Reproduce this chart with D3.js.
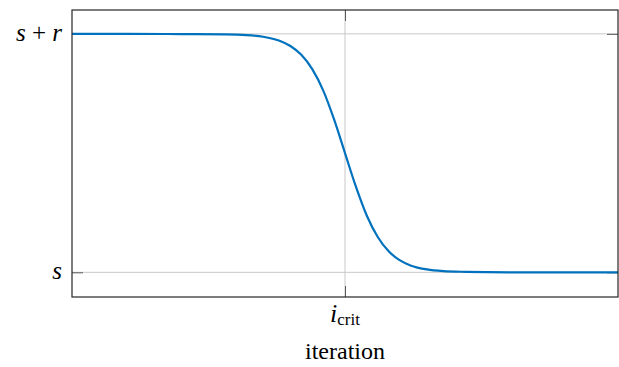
<!DOCTYPE html>
<html>
<head>
<meta charset="utf-8">
<script src="https://cdn.jsdelivr.net/npm/d3@7"></script>
<style>
  body { margin: 0; background: #fff; }
  svg { display: block; }
</style>
</head>
<body>
<svg id="chart" width="619" height="367"></svg>
<script>
// данные (ось X: итерации 0..100, i_crit = 50)
const iterations = [0, 10, 20, 28, 32, 35, 38, 40, 42, 44, 46, 48, 50, 52, 54, 56, 58, 60, 62, 65, 68, 72, 80, 90, 100];
const values     = [1.000, 1.000, 0.999, 0.998, 0.995, 0.988, 0.971, 0.949, 0.912, 0.852, 0.763, 0.641, 0.500,
                    0.359, 0.237, 0.148, 0.088, 0.051, 0.029, 0.012, 0.005, 0.002, 0.000, 0.000, 0.000];
const yTickValues = [0, 1];
const yLabels = ["s", "s + r"];
const xTickValues = [50];

const fontFamily = "'Liberation Serif'";

const svg = d3.select("#chart");
const margin = {top: 10, right: 1, bottom: 70, left: 72};
const width = 619 - margin.left - margin.right;
const height = 367 - margin.top - margin.bottom;

const chart = svg.append("g")
    .attr("transform", `translate(${margin.left},${margin.top})`);

const x = d3.scaleLinear().domain([0, 100]).range([0, width]);
const y = d3.scaleLinear().domain([-0.1035, 1.1]).range([height, 0]);

// сетка
chart.selectAll(".gy").data(yTickValues).enter().append("line")
    .attr("x1", 0).attr("x2", width)
    .attr("y1", d => y(d)).attr("y2", d => y(d))
    .attr("stroke", "#c8c8c8").attr("stroke-width", 1);
chart.selectAll(".gx").data(xTickValues).enter().append("line")
    .attr("x1", d => x(d)).attr("x2", d => x(d))
    .attr("y1", 0).attr("y2", height)
    .attr("stroke", "#c8c8c8").attr("stroke-width", 1);

// оси с внутренними засечками
const tickColor = "#5a5a5a";
const yAxisLeft = chart.append("g")
    .call(d3.axisLeft(y).tickValues(yTickValues).tickSizeInner(-11).tickSizeOuter(0).tickFormat(""));
const yAxisRight = chart.append("g").attr("transform", `translate(${width},0)`)
    .call(d3.axisRight(y).tickValues(yTickValues).tickSizeInner(-11).tickSizeOuter(0).tickFormat(""));
const xAxisBottom = chart.append("g").attr("transform", `translate(0,${height})`)
    .call(d3.axisBottom(x).tickValues(xTickValues).tickSizeInner(-11).tickSizeOuter(0).tickFormat(""));
const xAxisTop = chart.append("g")
    .call(d3.axisTop(x).tickValues(xTickValues).tickSizeInner(-11).tickSizeOuter(0).tickFormat(""));
[yAxisLeft, yAxisRight, xAxisBottom, xAxisTop].forEach(a => {
    a.select(".domain").remove();
    a.selectAll(".tick line").attr("stroke", tickColor).attr("stroke-width", 1);
});

// кривая
const line = d3.line()
    .x((d, i) => x(iterations[i]))
    .y(d => y(d))
    .curve(d3.curveMonotoneX);
chart.append("path")
    .datum(values)
    .attr("fill", "none")
    .attr("stroke", "#0072BD")
    .attr("stroke-width", 2.2)
    .attr("d", line);

// рамка
chart.append("rect")
    .attr("x", 0).attr("y", 0).attr("width", width).attr("height", height)
    .attr("fill", "none").attr("stroke", "#262626").attr("stroke-width", 1.2);

// подписи оси Y
chart.selectAll(".ylab").data(yTickValues).enter().append("text")
    .attr("x", -10).attr("y", d => y(d) + 7)
    .attr("text-anchor", "end")
    .style("font-family", fontFamily)
    .attr("font-size", 25)
    .attr("fill", "#000")
    .each(function(d, i) {
        const t = d3.select(this);
        yLabels[i].split(" ").forEach((p, k) => {
            t.append("tspan")
                .attr("font-style", p === "+" ? "normal" : "italic")
                .text((k > 0 ? " " : "") + p);
        });
    });

// подпись i_crit
const xl = chart.append("text")
    .attr("x", x(50)).attr("y", height + 25)
    .attr("text-anchor", "middle")
    .style("font-family", fontFamily)
    .attr("fill", "#000");
xl.append("tspan").attr("font-style", "italic").attr("font-size", 26).text("i");
xl.append("tspan").attr("font-size", 17).attr("dy", 3).text("crit");

// название оси X
chart.append("text")
    .attr("x", x(50)).attr("y", height + 62)
    .attr("text-anchor", "middle")
    .style("font-family", fontFamily)
    .attr("font-size", 24)
    .attr("fill", "#000")
    .text("iteration");
</script>
</body>
</html>
